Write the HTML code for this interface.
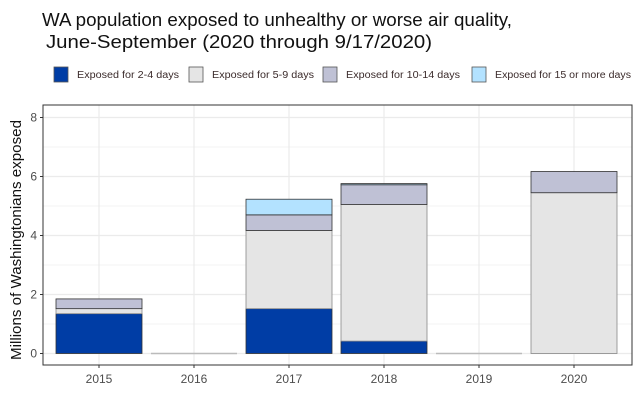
<!DOCTYPE html>
<html><head><meta charset="utf-8"><style>
body{margin:0;background:#fff;font-family:"Liberation Sans",Arial,sans-serif;}
svg text{font-family:"Liberation Sans",Arial,sans-serif;}
</style></head><body>
<svg id="chart" width="640" height="414" xmlns="http://www.w3.org/2000/svg">
<text x="42" y="26" font-size="18.5" textLength="470" lengthAdjust="spacingAndGlyphs" fill="#111">WA population exposed to unhealthy or worse air quality,</text>
<text x="46" y="48" font-size="18.5" textLength="386" lengthAdjust="spacingAndGlyphs" fill="#111">June-September (2020 through 9/17/2020)</text>
<g id="legend"></g>
<rect x="43" y="105" width="589" height="260" fill="#fff"/>
<g id="grid"></g><g id="bars"></g><g id="axes"></g>
<text transform="translate(21,240) rotate(-90)" text-anchor="middle" font-size="15" textLength="240" lengthAdjust="spacingAndGlyphs" fill="#111">Millions of Washingtonians exposed</text>
</svg>
<script>
const years=["2015","2016","2017","2018","2019","2020"];
const d24=[1.35,0,1.52,0.42,0,0];
const d59=[0.17,0,2.65,4.63,0,5.45];
const d1014=[0.33,0,0.53,0.67,0,0.72];
const d15=[0,0,0.53,0.04,0,0];
const yTicks=[0,2,4,6,8];
const seriesNames=["Exposed for 2-4 days","Exposed for 5-9 days","Exposed for 10-14 days","Exposed for 15 or more days"];
const colors=["#003da5","#e5e5e5","#bfc1d5","#b3e2ff"];
const NS="http://www.w3.org/2000/svg";
const L=43,R=632,T=105,B=365;
const y=v=>353.5-v*29.5;
const x=i=>99+i*95;
const bw=86;
function mk(tag,at,parent){const e=document.createElementNS(NS,tag);for(const k in at)e.setAttribute(k,at[k]);parent.appendChild(e);return e;}
const grid=document.getElementById('grid'),bars=document.getElementById('bars'),axes=document.getElementById('axes'),leg=document.getElementById('legend');
for(let v=1;v<8;v+=2){const g=mk('line',{x1:L,x2:R,y1:y(v),y2:y(v),stroke:'#f3f3f3','stroke-width':1},grid);}
yTicks.forEach(v=>{const g=mk('line',{x1:L,x2:R,y1:y(v),y2:y(v),stroke:'#ebebeb','stroke-width':1.2},grid);
const t=mk('text',{x:L-6,y:y(v)+4,'text-anchor':'end','font-size':12,fill:'#4d4d4d'},axes);t.textContent=v;
mk('line',{x1:L-3,x2:L,y1:y(v),y2:y(v),stroke:'#333'},axes);});
years.forEach((yr,i)=>{const g=mk('line',{x1:x(i),x2:x(i),y1:T,y2:B,stroke:'#ebebeb','stroke-width':1.2},grid);
const t=mk('text',{x:x(i),y:383,'text-anchor':'middle','font-size':12,fill:'#4d4d4d'},axes);t.textContent=yr;
mk('line',{x1:x(i),x2:x(i),y1:B,y2:B+3,stroke:'#333'},axes);
const series=[d24,d59,d1014,d15];let base=0;
const tot=d24[i]+d59[i]+d1014[i]+d15[i];
if(tot===0){const z=mk('line',{x1:x(i)-bw/2,x2:x(i)+bw/2,y1:y(0),y2:y(0),stroke:'#bbb','stroke-width':1.5},bars);}
series.forEach((s,k)=>{if(s[i]<=0)return;const r=mk('rect',{x:x(i)-bw/2,y:y(base+s[i]),width:bw,height:s[i]*29.5,fill:colors[k],stroke:k===1?'#888':'#333','stroke-width':0.8},bars);
base+=s[i];});
});
mk('rect',{x:L,y:T,width:R-L,height:B-T,fill:'none',stroke:'#333','stroke-width':1},axes);
const lx=[54,189,323,472];
const tw=[102,102,114,136];
seriesNames.forEach((n,k)=>{const r=mk('rect',{x:lx[k],y:67,width:14,height:15,fill:colors[k],stroke:'#555','stroke-width':0.8},leg);
const t=mk('text',{x:lx[k]+23,y:78,'font-size':10,fill:'#3b2b2b',textLength:tw[k],lengthAdjust:'spacingAndGlyphs'},leg);t.textContent=n;});
</script>
</body></html>
